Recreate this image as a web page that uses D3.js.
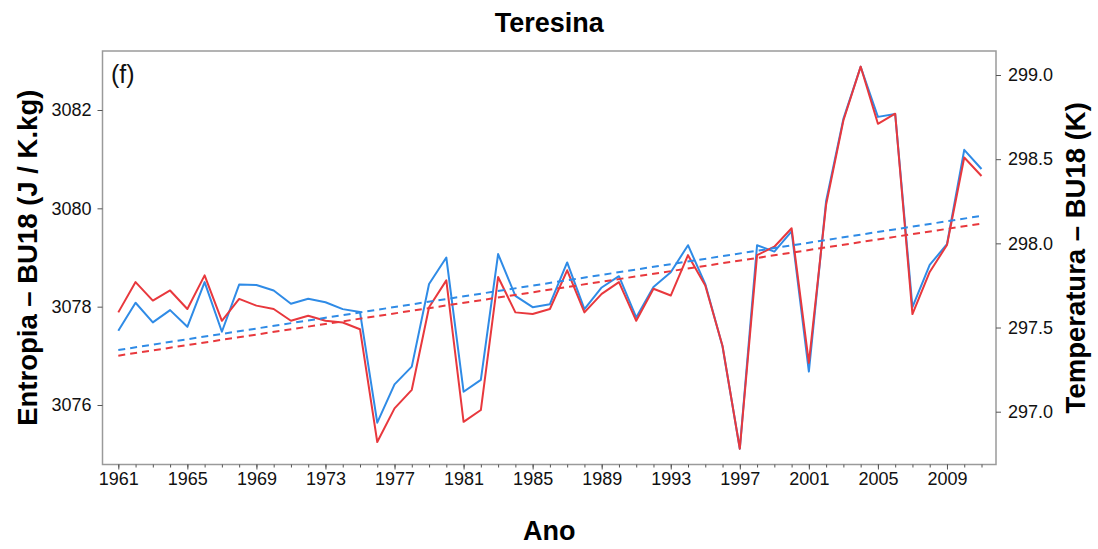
<!DOCTYPE html>
<html>
<head>
<meta charset="utf-8">
<script src="https://cdn.jsdelivr.net/npm/d3@7"></script>
<style>
  html, body { margin: 0; padding: 0; background: #fff; }
  svg { display: block; font-family: "Liberation Sans", Arial, Helvetica, sans-serif; }
</style>
</head>
<body>
<svg id="chart" width="1098" height="549"></svg>
<script>
// Annual series, Teresina 1961–2011
const years = d3.range(1961, 2012);

// Entropia – BU18 (J / K.kg)
const entropia = [
  3077.51, 3078.08, 3077.68, 3077.93, 3077.59, 3078.50, 3077.49, 3078.45, 3078.44, 3078.33,
  3078.06, 3078.16, 3078.09, 3077.95, 3077.89, 3075.64, 3076.42, 3076.78, 3078.46, 3079.00,
  3076.27, 3076.51, 3079.07, 3078.22, 3077.99, 3078.05, 3078.90, 3077.95, 3078.39, 3078.62,
  3077.78, 3078.40, 3078.70, 3079.25, 3078.46, 3077.19, 3075.11, 3079.25, 3079.12, 3079.53,
  3076.68, 3080.15, 3081.82, 3082.88, 3081.86, 3081.92, 3077.99, 3078.85, 3079.27, 3081.19,
  3080.80
];

// Temperatura – BU18 (K)
const temperatura = [
  297.59, 297.77, 297.66, 297.72, 297.61, 297.81, 297.54, 297.67, 297.63, 297.61,
  297.54, 297.57, 297.54, 297.53, 297.49, 296.82, 297.02, 297.13, 297.62, 297.78,
  296.94, 297.01, 297.80, 297.59, 297.58, 297.61, 297.84, 297.59, 297.70, 297.77,
  297.54, 297.73, 297.69, 297.93, 297.75, 297.39, 296.78, 297.93, 297.98, 298.09,
  297.29, 298.23, 298.73, 299.05, 298.71, 298.77, 297.58, 297.83, 297.99, 298.51,
  298.40
];

const leftTicks = [3076, 3078, 3080, 3082];
const rightTicks = [297.0, 297.5, 298.0, 298.5, 299.0];
const majorYears = d3.range(1961, 2012, 4);

const colEntropia = "#2f8be6";
const colTemperatura = "#e8383d";

// Layout
const frame = { left: 102.5, right: 996, top: 51, bottom: 464.5 };

const svg = d3.select("#chart");

const x = d3.scaleLinear().domain([1961, 2011]).range([118.3, 981.5]);
const yL = d3.scaleLinear().domain([3076, 3082]).range([405, 110]);
const yR = d3.scaleLinear().domain([297, 299]).range([411.7, 75]);

// Least-squares trend of a series against the years
function trend(vals) {
  const mx = d3.mean(years), my = d3.mean(vals);
  let sxy = 0, sxx = 0;
  years.forEach((t, i) => { sxy += (t - mx) * (vals[i] - my); sxx += (t - mx) * (t - mx); });
  const b = sxy / sxx, a = my - b * mx;
  return [years[0], years[years.length - 1]].map(t => ({ t, v: a + b * t }));
}

const plot = svg.append("g");

// Series lines
const lineL = d3.line().x((d, i) => x(years[i])).y(d => yL(d));
const lineR = d3.line().x((d, i) => x(years[i])).y(d => yR(d));

plot.append("path").datum(entropia)
  .attr("d", lineL).attr("fill", "none")
  .attr("stroke", colEntropia).attr("stroke-width", 2).attr("stroke-linejoin", "round");
plot.append("path").datum(temperatura)
  .attr("d", lineR).attr("fill", "none")
  .attr("stroke", colTemperatura).attr("stroke-width", 2).attr("stroke-linejoin", "round");

// Dashed linear trends
plot.append("path").datum(trend(entropia))
  .attr("d", d3.line().x(d => x(d.t)).y(d => yL(d.v)))
  .attr("fill", "none").attr("stroke", colEntropia).attr("stroke-width", 2)
  .attr("stroke-dasharray", "7,5");
plot.append("path").datum(trend(temperatura))
  .attr("d", d3.line().x(d => x(d.t)).y(d => yR(d.v)))
  .attr("fill", "none").attr("stroke", colTemperatura).attr("stroke-width", 2)
  .attr("stroke-dasharray", "7,5");

// Panel frame
svg.append("rect")
  .attr("x", frame.left).attr("y", frame.top)
  .attr("width", frame.right - frame.left).attr("height", frame.bottom - frame.top)
  .attr("fill", "none").attr("stroke", "#9a9a9a").attr("stroke-width", 1.5);

function styleAxis(g) {
  g.select(".domain").remove();
  g.selectAll(".tick line").attr("stroke", "#555").attr("stroke-width", 1);
  g.selectAll(".tick text").attr("fill", "#111").attr("font-size", 18)
    .attr("font-family", "'Liberation Sans', Arial, sans-serif");
}

// Bottom axis: one tick per year, labels every four years
svg.append("g").attr("transform", `translate(0,${frame.bottom})`)
  .call(d3.axisBottom(x).tickValues(years).tickSize(3).tickFormat(""))
  .call(styleAxis);
svg.append("g").attr("transform", `translate(0,${frame.bottom})`)
  .call(d3.axisBottom(x).tickValues(majorYears).tickSize(5).tickPadding(3).tickFormat(d3.format("d")))
  .call(styleAxis);

// Left axis
svg.append("g").attr("transform", `translate(${frame.left},0)`)
  .call(d3.axisLeft(yL).tickValues(leftTicks).tickSize(5).tickPadding(6).tickFormat(d3.format("d")))
  .call(styleAxis);

// Right axis
svg.append("g").attr("transform", `translate(${frame.right},0)`)
  .call(d3.axisRight(yR).tickValues(rightTicks).tickSize(5).tickPadding(7).tickFormat(d3.format(".1f")))
  .call(styleAxis);

// Titles
svg.append("text")
  .attr("x", (frame.left + frame.right) / 2).attr("y", 32)
  .attr("text-anchor", "middle").attr("font-weight", "bold").attr("font-size", 27)
  .text("Teresina");

svg.append("text")
  .attr("x", (frame.left + frame.right) / 2).attr("y", 540)
  .attr("text-anchor", "middle").attr("font-weight", "bold").attr("font-size", 27)
  .text("Ano");

svg.append("text")
  .attr("transform", `translate(37,${(frame.top + frame.bottom) / 2}) rotate(-90)`)
  .attr("text-anchor", "middle").attr("font-weight", "bold").attr("font-size", 27.5)
  .text("Entropia – BU18 (J / K.kg)");

svg.append("text")
  .attr("transform", `translate(1085,${(frame.top + frame.bottom) / 2}) rotate(-90)`)
  .attr("text-anchor", "middle").attr("font-weight", "bold").attr("font-size", 27.5)
  .text("Temperatura – BU18 (K)");

// Panel tag
svg.append("text")
  .attr("x", 111).attr("y", 83)
  .attr("font-size", 25).attr("fill", "#111")
  .text("(f)");
</script>
</body>
</html>
